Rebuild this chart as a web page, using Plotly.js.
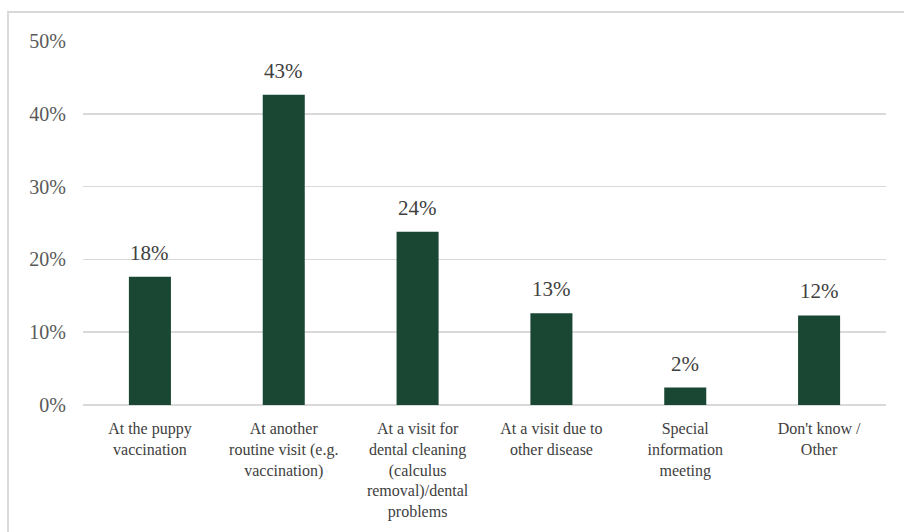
<!DOCTYPE html>
<html>
<head>
<meta charset="utf-8">
<script src="https://cdn.plot.ly/plotly-3.0.1.min.js"></script>
<style>
  html, body { margin: 0; padding: 0; background: #ffffff; overflow: hidden; }
  #wrap { position: relative; width: 904px; height: 532px; overflow: hidden; }
  #frame { position: absolute; left: 7px; top: 11px; width: 1000px; height: 1000px;
           border: 2px solid #d9d9d9; box-sizing: border-box; pointer-events: none; }
  #chart { position: absolute; left: 0; top: 0; width: 904px; height: 532px; }
</style>
</head>
<body>
<div id="wrap">
  <div id="frame"></div>
  <div id="chart"></div>
</div>
<script>
// Where owners first heard about it (share of respondents)
const categories = [
  "At the puppy<br>vaccination",
  "At another<br>routine visit (e.g.<br>vaccination)",
  "At a visit for<br>dental cleaning<br>(calculus<br>removal)/dental<br>problems",
  "At a visit due to<br>other disease",
  "Special<br>information<br>meeting",
  "Don't know /<br>Other"
];
const shares = [0.176, 0.426, 0.238, 0.126, 0.024, 0.123];
const yTickValues = [0, 0.1, 0.2, 0.3, 0.4, 0.5];
const yTickLabels = ["0%", "10%", "20%", "30%", "40%", "50%"];

const serif = "Liberation Serif";

const trace = {
  type: "bar",
  x: categories,
  y: shares,
  marker: { color: "#194734" },
  hoverinfo: "skip"
};

const valueLabels = categories.map((c, i) => ({
  x: c,
  y: shares[i],
  xref: "x",
  yref: "y",
  yanchor: "bottom",
  yshift: 10,
  showarrow: false,
  text: Math.round(shares[i] * 100) + "%",
  font: { family: serif, size: 21, color: "#404040" }
}));

const layout = {
  width: 904,
  height: 532,
  margin: { l: 83, r: 18, t: 41, b: 127 },
  paper_bgcolor: "rgba(0,0,0,0)",
  plot_bgcolor: "rgba(0,0,0,0)",
  font: { family: serif },
  bargap: 0.686,
  showlegend: false,
  xaxis: {
    type: "category",
    showgrid: false,
    zeroline: false,
    showline: false,
    ticks: "",
    ticklabelstandoff: 12,
    tickfont: { family: serif, size: 16, color: "#404040" }
  },
  yaxis: {
    range: [0, 0.5],
    tickvals: yTickValues,
    ticktext: yTickLabels,
    showgrid: true,
    gridcolor: "#d9d9d9",
    gridwidth: 1.5,
    zeroline: true,
    zerolinecolor: "#d9d9d9",
    zerolinewidth: 1.5,
    showline: false,
    ticks: "",
    ticklabelstandoff: 16,
    tickfont: { family: serif, size: 20, color: "#595959" }
  },
  annotations: valueLabels
};

Plotly.newPlot("chart", [trace], layout, { staticPlot: true, displayModeBar: false });
</script>
</body>
</html>
